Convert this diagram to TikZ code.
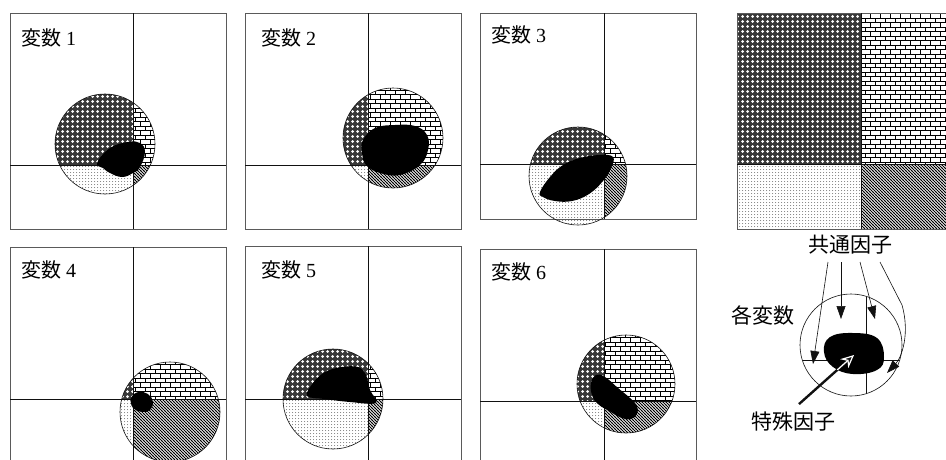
\documentclass[tikz,border=0pt]{standalone}
\usepackage{fontspec}
\setmainfont{Liberation Serif}
\newfontfamily\jpfont{Noto Sans CJK JP}
\usetikzlibrary{patterns,arrows.meta,positioning}
\definecolor{Frame}{HTML}{5A5A5A}
\definecolor{Ink}{HTML}{111111}

\pgfdeclarepatternformonly{balls}{\pgfqpoint{-1pt}{-1pt}}{\pgfqpoint{6pt}{6pt}}{\pgfqpoint{5pt}{5pt}}{%
  \pgfpathcircle{\pgfqpoint{2.5pt}{2.5pt}}{1.5pt}\pgfusepath{fill}}
\pgfdeclarepatternformonly{specks}{\pgfqpoint{-1pt}{-1pt}}{\pgfqpoint{4pt}{4pt}}{\pgfqpoint{3pt}{3pt}}{%
  \pgfpathcircle{\pgfqpoint{1.5pt}{1.5pt}}{0.5pt}\pgfusepath{fill}}
\pgfdeclarepatternformonly{brickwall}{\pgfqpoint{-1pt}{-1pt}}{\pgfqpoint{11pt}{10pt}}{\pgfqpoint{10pt}{9pt}}{%
  \pgfsetlinewidth{0.8pt}%
  \pgfpathmoveto{\pgfqpoint{-0.5pt}{0pt}}\pgfpathlineto{\pgfqpoint{10.5pt}{0pt}}%
  \pgfpathmoveto{\pgfqpoint{-0.5pt}{4.5pt}}\pgfpathlineto{\pgfqpoint{10.5pt}{4.5pt}}%
  \pgfpathmoveto{\pgfqpoint{0pt}{0pt}}\pgfpathlineto{\pgfqpoint{0pt}{4.5pt}}%
  \pgfpathmoveto{\pgfqpoint{5pt}{4.5pt}}\pgfpathlineto{\pgfqpoint{5pt}{9pt}}%
  \pgfusepath{stroke}}
\pgfdeclarepatternformonly{hatch}{\pgfqpoint{-1pt}{-1pt}}{\pgfqpoint{4pt}{4pt}}{\pgfqpoint{3pt}{3pt}}{%
  \pgfsetlinewidth{0.85pt}\pgfpathmoveto{\pgfqpoint{-0.2pt}{3.2pt}}\pgfpathlineto{\pgfqpoint{3.2pt}{-0.2pt}}\pgfusepath{stroke}}

% four patterned parts of a circle: vx, hy, cx, cy, r
\newcommand{\quadfill}[5]{%
  \begin{scope}
    \clip (#3,#4) circle (#5);
    \fill[white] (#3-#5,#4-#5) rectangle (#3+#5,#4+#5);
    \fill[black!78] (#3-#5,#4-#5) rectangle (#1,#2);
    \fill[pattern=balls,pattern color=white] (#3-#5,#4-#5) rectangle (#1,#2);
    \fill[pattern=brickwall] (#1,#4-#5) rectangle (#3+#5,#2);
    \fill[pattern=specks,pattern color=black!55] (#3-#5,#2) rectangle (#1,#4+#5);
    \fill[pattern=hatch] (#1,#2) rectangle (#3+#5,#4+#5);
  \end{scope}}
% one panel: x0, y0, y1, vx, hy, cx, cy, r
\newcommand{\panel}[8]{%
  \quadfill{#4}{#5}{#6}{#7}{#8}
  \draw[Frame,line width=1pt] (#1,#2) rectangle (#1+216,#3);
  \draw[Ink,line width=0.8pt] (#4,#2) -- (#4,#3) (#1,#5) -- (#1+216,#5);}

\begin{document}
\begin{tikzpicture}[x=1pt,y=-1pt,every node/.style={inner sep=0pt}]
  \clip (0,0) rectangle (946,459);
  \fill[white] (0,0) rectangle (946,459);

  % top row
  \panel{10}{13}{229}{133}{165}{105}{144}{50}
  \fill plot[smooth cycle,tension=0.7] coordinates {(97,163) (110,148) (128,142) (140,143) (145,152) (140,167) (133,173) (122,177) (110,173) (103,168)};
  \draw[Ink,line width=0.6pt] (105,144) circle (50);
  \node[right,font=\fontsize{20}{20}\selectfont] (v1) at (21,38) {{\jpfont 変数} 1};

  \panel{245}{13}{229}{368}{165}{393}{138}{50}
  \fill plot[smooth cycle,tension=0.7] coordinates {(363,140) (375,128) (395,125) (415,126) (427,135) (428,150) (420,165) (400,175) (380,173) (366,165) (362,152)};
  \draw[Ink,line width=0.6pt] (393,138) circle (50);
  \node[right,font=\fontsize{20}{20}\selectfont] (v2) at (261,38) {{\jpfont 変数} 2};

  \panel{480}{13}{219}{604}{164}{578}{176}{49}
  \fill plot[smooth cycle,tension=0.7] coordinates {(540,192) (550,177) (563,165) (580,158) (600,155) (613,157) (611,168) (603,181) (589,194) (572,201) (555,201) (543,197)};
  \draw[Ink,line width=0.6pt] (578,176) circle (49);
  \node[right,font=\fontsize{20}{20}\selectfont] (v3) at (491,35) {{\jpfont 変数} 3};

  % bottom row
  \panel{10}{247}{470}{133}{399}{170}{412}{50}
  \fill plot[smooth cycle,tension=0.7] coordinates {(131,398) (138,392) (148,394) (153,402) (150,410) (142,412) (133,408)};
  \draw[Ink,line width=0.6pt] (170,412) circle (50);
  \node[right,font=\fontsize{20}{20}\selectfont] (v4) at (21,270) {{\jpfont 変数} 4};

  \panel{245}{246}{470}{368}{399}{333}{399}{50}
  \fill plot[smooth cycle,tension=0.6] coordinates {(307,396) (313,383) (325,372) (342,367) (358,367) (366,375) (370,390) (376,403) (350,402) (325,399)};
  \draw[Ink,line width=0.6pt] (333,399) circle (50);
  \node[right,font=\fontsize{20}{20}\selectfont] (v5) at (261,270) {{\jpfont 変数} 5};

  \panel{480}{249}{470}{604}{401}{626}{384}{49}
  \fill plot[smooth cycle,tension=0.7] coordinates {(596,375) (605,377) (618,388) (630,398) (637,406) (637,414) (631,419) (622,418) (609,411) (598,404) (592,395) (591,383)};
  \draw[Ink,line width=0.6pt] (626,384) circle (49);
  \node[right,font=\fontsize{20}{20}\selectfont] (v6) at (491,272) {{\jpfont 変数} 6};

  % legend square
  \fill[black!78] (737,13) rectangle (861,164);
  \fill[pattern=balls,pattern color=white] (737,13) rectangle (861,164);
  \fill[pattern=brickwall] (861,13) rectangle (946,164);
  \fill[pattern=specks,pattern color=black!55] (737,164) rectangle (861,229);
  \fill[pattern=hatch] (861,164) rectangle (946,229);
  \draw[Frame,line width=1pt] (946,13) -- (737,13) -- (737,229) -- (946,229);
  \draw[Ink,line width=0.8pt] (861,13) -- (861,229) (737,164) -- (946,164);

  % legend circle
  \begin{scope}
    \clip (851,345) circle (51);
    \draw[Ink,line width=0.6pt] (866,290) -- (866,400) (795,360) -- (910,360);
  \end{scope}
  \fill plot[smooth cycle,tension=0.7] coordinates {(830,337) (853,333) (877,338) (884,357) (877,370) (853,374) (833,367) (824,352)};
  \draw[Ink,line width=0.6pt] (851,345) circle (51);

  \node[font=\fontsize{21}{21}\selectfont\jpfont] (common) at (850,245) {共通因子};
  \node[font=\fontsize{21}{21}\selectfont\jpfont] (each) at (763,315) {各変数};
  \node[font=\fontsize{21}{21}\selectfont\jpfont] (special) at (793,422) {特殊因子};

  \coordinate (s1) at (828,262);
  \coordinate (t1) at (813,364);
  \coordinate (s2) at (841,262);
  \coordinate (t2) at (841,319);
  \coordinate (s3) at (860,262);
  \coordinate (t3) at (875,319);
  \coordinate (s4) at (880,262);
  \coordinate (t4) at (887,373);
  \coordinate (sp) at (854,355);
  \draw[Ink,line width=0.6pt,-{Triangle[length=13pt,width=9pt]}] (s1) -- (t1);
  \draw[Ink,line width=0.6pt,-{Triangle[length=13pt,width=9pt]}] (s2) -- (t2);
  \draw[Ink,line width=0.6pt,-{Triangle[length=13pt,width=9pt]}] (s3) -- (t3);
  \draw[Ink,line width=0.6pt,-{Triangle[length=13pt,width=9pt]}] (s4) -- (902,305) .. controls (910,333) and (902,357) .. (t4);
  \draw[Ink,line width=2.4pt,-{Stealth[length=13pt,width=12pt]}] (special.north) ++(6,-8) -- (sp);
  \begin{scope}
    \clip plot[smooth cycle,tension=0.7] coordinates {(830,337) (853,333) (877,338) (884,357) (877,370) (853,374) (833,367) (824,352)};
    \draw[white,line width=1.2pt,-{Stealth[length=13pt,width=12pt,open]}] (special.north) ++(6,-8) -- (sp);
  \end{scope}
\end{tikzpicture}
\end{document}
